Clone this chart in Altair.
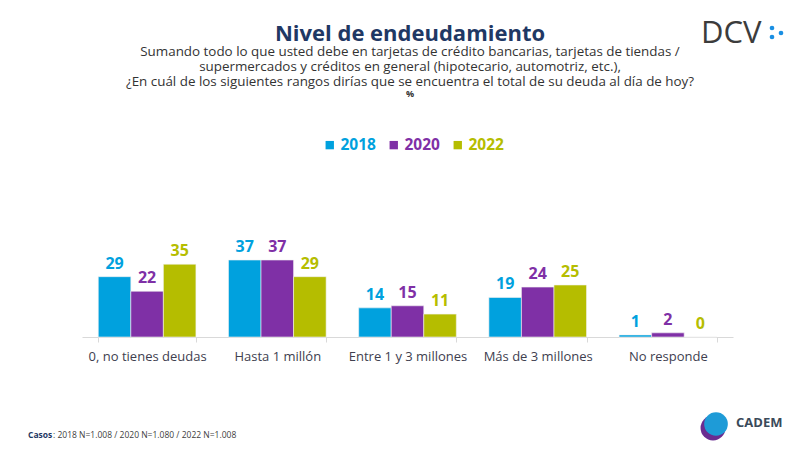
import altair as alt
import pandas as pd

categories = [
    "0, no tienes deudas",
    "Hasta 1 millón",
    "Entre 1 y 3 millones",
    "Más de 3 millones",
    "No responde",
]
years = ["2018", "2020", "2022"]
v2018 = [29, 37, 14, 19, 1]
v2020 = [22, 37, 15, 24, 2]
v2022 = [35, 29, 11, 25, 0]
colors = ["#00A1DE", "#7F30A6", "#B5BD00"]

title = "Nivel de endeudamiento"
subtitle = [
    "Sumando todo lo que usted debe en tarjetas de crédito bancarias, tarjetas de tiendas /",
    "supermercados y créditos en general (hipotecario, automotriz, etc.),",
    "¿En cuál de los siguientes rangos dirías que se encuentra el total de su deuda al día de hoy?",
]
unit = "%"
footer_bold = "Casos"
footer_rest = ": 2018 N=1.008 / 2020 N=1.080 / 2022 N=1.008"

rows = []
for yr, vals in zip(years, [v2018, v2020, v2022]):
    for cat, v in zip(categories, vals):
        rows.append({"categoria": cat, "anio": yr, "valor": v})
df = pd.DataFrame(rows)

color_scale = alt.Scale(domain=years, range=colors)

base = alt.Chart(df).encode(
    x=alt.X(
        "categoria:N",
        sort=categories,
        scale=alt.Scale(paddingInner=0.25, paddingOuter=0.125),
        axis=alt.Axis(
            title=None,
            labelAngle=0,
            labelFont="Open Sans",
            labelFontSize=13,
            labelColor="#40404f",
            labelPadding=8,
            domainColor="#d9d9d9",
            tickColor="#d9d9d9",
            tickBand="extent",
            tickSize=5,
        ),
    ),
    xOffset=alt.XOffset("anio:N", sort=years, scale=alt.Scale(paddingInner=0)),
    y=alt.Y("valor:Q", scale=alt.Scale(domain=[0, 109.1]), axis=None),
)

bars = base.mark_bar(stroke="#f2f2f2", strokeWidth=0.6).encode(
    color=alt.Color(
        "anio:N",
        scale=color_scale,
        sort=years,
        legend=alt.Legend(
            title=None,
            orient="none",
            legendX=240,
            legendY=27,
            direction="horizontal",
            symbolType="square",
            symbolSize=70,
            symbolStrokeWidth=0,
            labelFont="Open Sans",
            labelFontSize=15.5,
            labelFontWeight="bold",
            labelColor=alt.ExprRef("scale('color', datum.value)"),
            columnPadding=10,
            labelOffset=3,
        ),
    )
)

labels = base.mark_text(
    baseline="bottom", dy=-5, font="Open Sans", fontSize=16, fontWeight="bold"
).encode(
    text="valor:Q",
    color=alt.Color("anio:N", scale=color_scale, legend=None),
)

one = pd.DataFrame({"k": [0]})

head = alt.Chart(one).mark_text(
    align="center", baseline="middle", font="Open Sans", fontSize=22,
    fontWeight="bold", color="#1f3864", text=title,
).encode(x=alt.value(328), y=alt.value(-76))

sub_layers = []
for i, line in enumerate(subtitle):
    sub_layers.append(
        alt.Chart(one).mark_text(
            align="center", baseline="middle", font="Open Sans", fontSize=13.4,
            color="#333333", text=line,
        ).encode(x=alt.value(328), y=alt.value(-58 + 15 * i))
    )
pct = alt.Chart(one).mark_text(
    align="center", baseline="middle", font="Open Sans", fontSize=9,
    fontWeight="bold", color="#333333", text=unit,
).encode(x=alt.value(328), y=alt.value(-16))

foot1 = alt.Chart(one).mark_text(
    align="left", baseline="middle", font="Open Sans", fontSize=8.5,
    fontWeight="bold", color="#1f3864", text=footer_bold,
).encode(x=alt.value(-54), y=alt.value(325))
foot2 = alt.Chart(one).mark_text(
    align="left", baseline="middle", font="Open Sans", fontSize=8.5,
    color="#404040", text=footer_rest,
).encode(x=alt.value(-29), y=alt.value(325))

dcv = alt.Chart(one).mark_text(
    align="left", baseline="middle", font="Open Sans", fontSize=31,
    color="#3c3c3c", text="DCV",
).encode(x=alt.value(619), y=alt.value(-76))
dot1 = alt.Chart(one).mark_circle(size=22, color="#1a8fe3", opacity=1).encode(
    x=alt.value(690), y=alt.value(-82))
dot2 = alt.Chart(one).mark_circle(size=22, color="#1a8fe3", opacity=1).encode(
    x=alt.value(690), y=alt.value(-73))
dot3 = alt.Chart(one).mark_circle(size=22, color="#1a8fe3", opacity=1).encode(
    x=alt.value(699), y=alt.value(-77))

cadem_p = alt.Chart(one).mark_circle(size=620, color="#6a2c91", opacity=1).encode(
    x=alt.value(631), y=alt.value(318))
cadem_b = alt.Chart(one).mark_circle(size=560, color="#1e9bd7", opacity=1).encode(
    x=alt.value(634), y=alt.value(314))
cadem_t = alt.Chart(one).mark_text(
    align="left", baseline="middle", font="Open Sans", fontSize=13,
    fontWeight="bold", color="#3a4a5a", text="CADEM",
).encode(x=alt.value(654), y=alt.value(313))

chart = alt.layer(
    bars, labels, head, *sub_layers, pct, foot1, foot2,
    dcv, dot1, dot2, dot3, cadem_p, cadem_b, cadem_t,
).properties(
    width=651,
    height=227,
    autosize=alt.AutoSizeParams(type="none"),
    padding={"left": 74, "top": 102, "right": 60, "bottom": 110},
).configure_view(stroke=None)

chart.save("out.html", embed_options={"renderer": "svg", "actions": False})
